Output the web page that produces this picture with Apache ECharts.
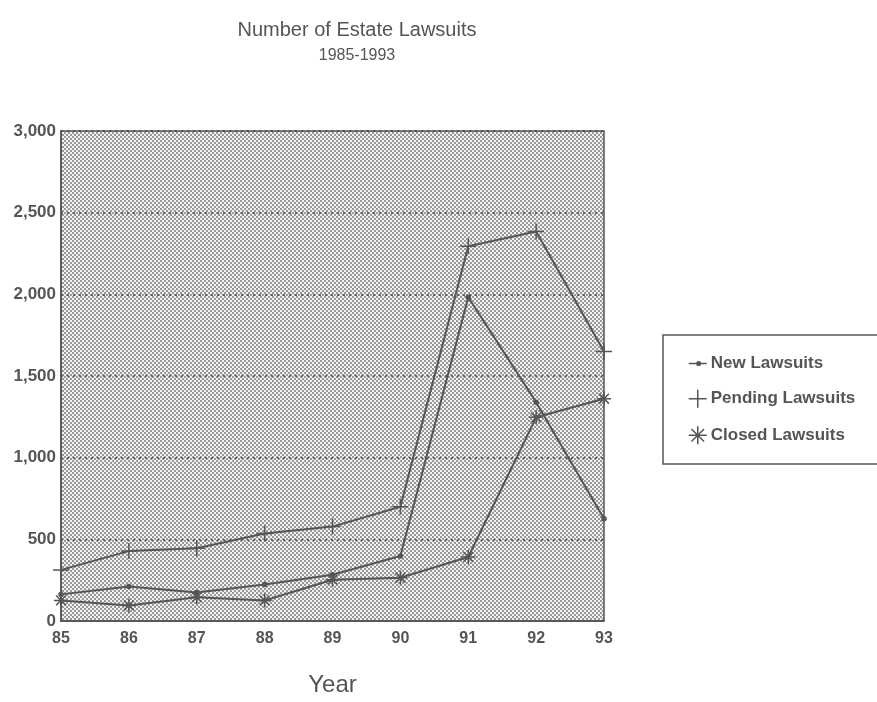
<!DOCTYPE html>
<html>
<head>
<meta charset="utf-8">
<script src="https://cdn.jsdelivr.net/npm/echarts@6/dist/echarts.min.js"></script>
<style>
  html, body { margin: 0; padding: 0; background: #fff; overflow: hidden; }
  #chart { width: 877px; height: 702px; }
</style>
</head>
<body>
<div id="chart"></div>
<script>
var years = ['85', '86', '87', '88', '89', '90', '91', '92', '93'];
var newLawsuits = [163, 211, 175, 223, 283, 398, 1982, 1340, 626];
var pendingLawsuits = [313, 428, 446, 536, 578, 699, 2295, 2385, 1650];
var closedLawsuits = [126, 95, 145, 126, 253, 265, 392, 1247, 1361];

var ink = '#555';
var plusPath = 'path://M5,0L5,10M0,5L10,5';
var starPath = 'path://M5,0L5,10M0,5L10,5M1.5,1.5L8.5,8.5M8.5,1.5L1.5,8.5';
var dotLinePath = 'path://M0,5L20,5M13,5A2,2 0 1 1 9,5A2,2 0 1 1 13,5Z';

// stippled background like the old printout
var cv = document.createElement('canvas');
cv.width = 4; cv.height = 4;
var ctx = cv.getContext('2d');
ctx.fillStyle = '#f2f2f2';
ctx.fillRect(0, 0, 4, 4);
ctx.fillStyle = '#989898';
ctx.fillRect(0, 0, 2, 2);
ctx.fillRect(2, 2, 2, 2);

var chart = echarts.init(document.getElementById('chart'));

function lineSeries(name, data, symbol, size) {
    return {
        name: name,
        type: 'line',
        data: data,
        symbol: symbol,
        symbolSize: size,
        showAllSymbol: true,
        lineStyle: { color: ink, width: 2 },
        itemStyle: { color: ink, borderColor: ink, borderWidth: 1.5 },
        emphasis: { disabled: true },
        z: 3
    };
}

chart.setOption({
    animation: false,
    textStyle: { fontFamily: 'Liberation Sans' },
    title: [{
        text: 'Number of Estate Lawsuits',
        left: 352, top: 15, textAlign: 'center',
        textStyle: { fontSize: 20, fontWeight: 'normal', color: ink }
    }, {
        text: '1985-1993',
        left: 352, top: 43, textAlign: 'center',
        textStyle: { fontSize: 16, fontWeight: 'normal', color: ink }
    }],
    legend: {
        orient: 'vertical',
        left: 663, top: 335,
        padding: [20, 40, 19, 25],
        itemGap: 17,
        itemWidth: 18, itemHeight: 18,
        borderColor: ink, borderWidth: 1.5,
        selectedMode: false,
        textStyle: { fontSize: 17, fontWeight: 'bold', color: ink, padding: [0, 0, 0, -1] },
        itemStyle: { borderColor: ink, borderWidth: 1.5 },
        data: [
            { name: 'New Lawsuits', icon: dotLinePath },
            { name: 'Pending Lawsuits', icon: plusPath },
            { name: 'Closed Lawsuits', icon: starPath }
        ]
    },
    grid: {
        left: 61, right: 273, top: 131, bottom: 73,
        show: true,
        backgroundColor: { image: cv, repeat: 'repeat' },
        borderColor: ink, borderWidth: 1.5
    },
    xAxis: {
        type: 'category',
        data: years,
        boundaryGap: false,
        name: 'Year',
        nameLocation: 'middle',
        nameGap: 52,
        nameTextStyle: { fontSize: 24, color: ink },
        axisLine: { lineStyle: { color: ink, width: 1.5 } },
        axisTick: { show: false },
        axisLabel: { fontSize: 16, fontWeight: 'bold', color: ink, margin: 10 }
    },
    yAxis: {
        type: 'value',
        min: 0, max: 3000, interval: 500,
        axisLine: { show: true, lineStyle: { color: ink, width: 1.5 } },
        axisTick: { show: false },
        axisLabel: {
            fontSize: 17, fontWeight: 'bold', color: ink, margin: 5,
            formatter: function (v) { return v.toLocaleString('en-US'); }
        },
        splitLine: { lineStyle: { color: '#444', type: [2, 4], width: 1.5 } }
    },
    series: [
        lineSeries('New Lawsuits', newLawsuits, 'circle', 4),
        lineSeries('Pending Lawsuits', pendingLawsuits, plusPath, 16),
        lineSeries('Closed Lawsuits', closedLawsuits, starPath, 14)
    ]
});
</script>
</body>
</html>
